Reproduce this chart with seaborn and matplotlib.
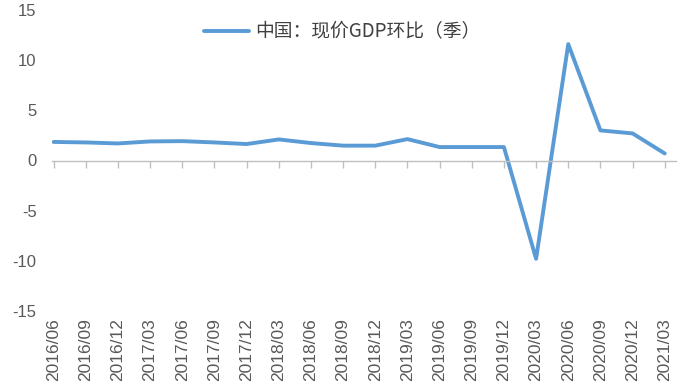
import matplotlib
matplotlib.use("Agg")
import matplotlib.pyplot as plt
import seaborn as sns
import pandas as pd

quarters = ["2016/06", "2016/09", "2016/12", "2017/03", "2017/06", "2017/09", "2017/12",
            "2018/03", "2018/06", "2018/09", "2018/12", "2019/03", "2019/06", "2019/09",
            "2019/12", "2020/03", "2020/06", "2020/09", "2020/12", "2021/03"]
gdp_qoq = [1.85, 1.8, 1.7, 1.9, 1.93, 1.8, 1.64, 2.1, 1.74, 1.48, 1.48, 2.13, 1.34, 1.34,
           1.34, -9.8, 11.6, 3.0, 2.7, 0.7]
series_name = "中国：现价GDP环比（季）"
y_ticks = [-15, -10, -5, 0, 5, 10, 15]

df = pd.DataFrame({"quarter": quarters, "value": gdp_qoq})

sns.set_style("white")
plt.rcParams["font.family"] = ["Liberation Sans", "DejaVu Sans"]

fig = plt.figure(figsize=(6.88, 3.91), dpi=100)
ax = fig.add_axes([52 / 688, 1 - 311 / 391, (676 - 52) / 688, (311 - 10) / 391])

sns.lineplot(data=df, x="quarter", y="value", ax=ax, color="#5B9BD5", linewidth=2.8,
             label=series_name, sort=False)

ax.set_ylim(-15, 15)
ax.set_xlim(-0.05, len(quarters) - 1 + 0.35)
ax.set_yticks(y_ticks)
ax.set_yticklabels([str(v) for v in y_ticks])
ax.set_xlabel("")
ax.set_ylabel("")

for s in ["left", "right", "top"]:
    ax.spines[s].set_visible(False)
ax.spines["bottom"].set_position(("data", 0))
ax.spines["bottom"].set_color("#BFBFBF")
ax.spines["bottom"].set_linewidth(1.0)
ax.set_xticks(range(len(quarters)))
ax.tick_params(axis="x", direction="out", length=5, width=1.0, color="#BFBFBF",
               labelbottom=False, bottom=True)
ax.tick_params(axis="y", length=0, pad=11, labelsize=12, labelcolor="#595959")

sec = ax.secondary_xaxis(0.0)
sec.set_xticks(range(len(quarters)))
sec.set_xticklabels(quarters, rotation=90, fontsize=12.5, color="#595959")
sec.tick_params(axis="x", length=0, pad=5)
sec.spines["bottom"].set_visible(False)

ax.get_legend().remove()
handles, labels = ax.get_legend_handles_labels()
fig.legend(handles, labels, loc="center", bbox_to_anchor=(342 / 688, 1 - 32 / 391),
           frameon=False, handlelength=2.4, handletextpad=0.3,
           prop={"family": ["Noto Sans CJK SC", "DejaVu Sans"], "size": 13.5},
           labelcolor="#404040")

fig.savefig("out.png", dpi=100)
